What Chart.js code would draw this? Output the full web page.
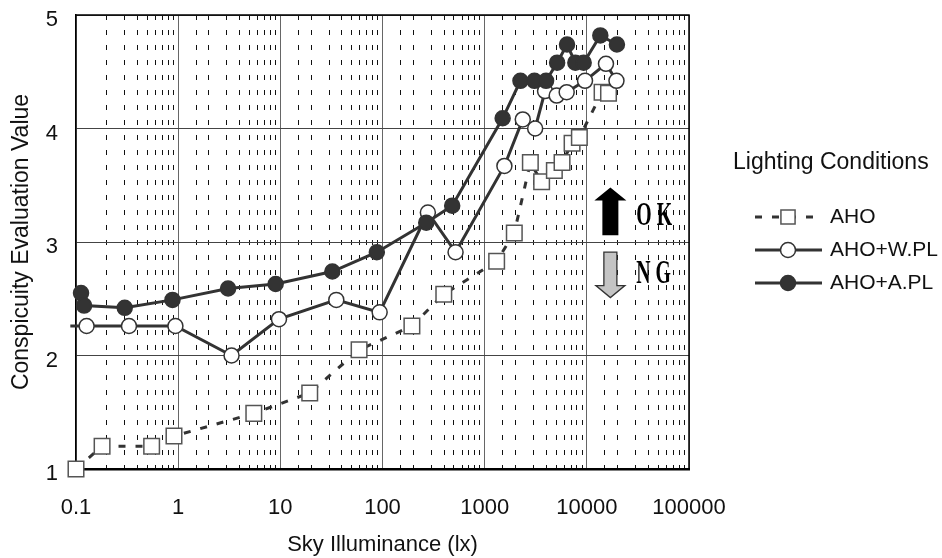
<!DOCTYPE html>
<html>
<head>
<meta charset="utf-8">
<title>Sky Illuminance - Conspicuity</title>
<script src="https://cdn.jsdelivr.net/npm/chart.js@4.4.0/dist/chart.umd.min.js"></script>
<style>
    html, body { margin: 0; padding: 0; background: #fff; }
</style>
</head>
<body>
<canvas id="skyChart" width="942" height="558"></canvas>
<script>
// values (x = sky illuminance in lx, y = evaluation value)
var ahoX = [0.1, 0.18, 0.55, 0.91, 5.5, 19.4, 59, 194, 398, 1310, 1950, 2800, 3610, 4810, 5720, 7170, 8450, 14100, 16300];
var ahoY = [1.00, 1.20, 1.20, 1.29, 1.49, 1.67, 2.05, 2.26, 2.54, 2.83, 3.08, 3.70, 3.53, 3.63, 3.70, 3.87, 3.92, 4.32, 4.31];

var wplX = [0.088, 0.127, 0.33, 0.94, 3.33, 9.7, 35.3, 93.8, 278, 519, 1560, 2360, 3120, 3900, 5070, 6350, 9600, 15400, 19500];
var wplY = [2.26, 2.26, 2.26, 2.26, 2.00, 2.32, 2.49, 2.38, 3.26, 2.91, 3.67, 4.08, 4.00, 4.33, 4.29, 4.32, 4.42, 4.57, 4.42];

var aplX = [0.112, 0.12, 0.30, 0.88, 3.08, 9.0, 32.3, 88, 268, 481, 1500, 2240, 3070, 3990, 5120, 6400, 7720, 9310, 13550, 19700];
var aplY = [2.55, 2.44, 2.42, 2.49, 2.59, 2.63, 2.74, 2.91, 3.17, 3.32, 4.09, 4.42, 4.42, 4.42, 4.58, 4.74, 4.58, 4.58, 4.82, 4.74];

var seriesNames = ["AHO", "AHO+W.PL", "AHO+A.PL"];
var xTickLabels = ["0.1", "1", "10", "100", "1000", "10000", "100000"];
var yTicks = [1, 2, 3, 4, 5];

var FONT = "'Liberation Sans', Arial, sans-serif";

function toPoints(xs, ys) {
    var pts = [];
    for (var i = 0; i < xs.length; i++) {
        pts.push({x: xs[i], y: ys[i]});
    }
    return pts;
}

function isDecade(v) {
    var l = Math.log10(v);
    return Math.abs(l - Math.round(l)) < 1e-6;
}

// fixed axis sizes, no extra padding from the labels
function fixSize(w, h) {
    return function (scale) {
        if (w !== null) scale.width = w;
        if (h !== null) scale.height = h;
        scale.paddingTop = 0;
        scale.paddingBottom = 0;
        scale.paddingLeft = 0;
        scale.paddingRight = 0;
    };
}

// frame on top and right of the plot
var framePlugin = {
    id: "frame",
    beforeDatasetsDraw: function (chart) {
        var a = chart.chartArea;
        var ctx = chart.ctx;
        ctx.save();
        ctx.strokeStyle = "#000";
        ctx.lineWidth = 1.5;
        ctx.beginPath();
        ctx.moveTo(a.left, a.top);
        ctx.lineTo(a.right, a.top);
        ctx.lineTo(a.right, a.bottom);
        ctx.stroke();
        ctx.restore();
    }
};

// OK / NG arrows
var arrowPlugin = {
    id: "okng",
    afterDatasetsDraw: function (chart) {
        var ctx = chart.ctx;
        var xs = chart.scales.x;
        var ys = chart.scales.y;
        var cx = xs.getPixelForValue(17000);

        // black up arrow
        var tip = ys.getPixelForValue(3.48);
        var bottom = ys.getPixelForValue(3.06);
        ctx.save();
        ctx.beginPath();
        ctx.moveTo(cx, tip);
        ctx.lineTo(cx + 16, tip + 13);
        ctx.lineTo(cx + 8, tip + 13);
        ctx.lineTo(cx + 8, bottom);
        ctx.lineTo(cx - 8, bottom);
        ctx.lineTo(cx - 8, tip + 13);
        ctx.lineTo(cx - 16, tip + 13);
        ctx.closePath();
        ctx.fillStyle = "#000";
        ctx.fill();

        // grey down arrow
        var top = ys.getPixelForValue(2.91);
        var tip2 = ys.getPixelForValue(2.51);
        ctx.beginPath();
        ctx.moveTo(cx - 6.5, top);
        ctx.lineTo(cx + 6.5, top);
        ctx.lineTo(cx + 6.5, tip2 - 12);
        ctx.lineTo(cx + 14.5, tip2 - 12);
        ctx.lineTo(cx, tip2);
        ctx.lineTo(cx - 14.5, tip2 - 12);
        ctx.lineTo(cx - 6.5, tip2 - 12);
        ctx.closePath();
        ctx.fillStyle = "#c4c4c4";
        ctx.fill();
        ctx.strokeStyle = "#333";
        ctx.lineWidth = 1.3;
        ctx.stroke();

        // labels
        var tx = xs.getPixelForValue(30500);
        ctx.fillStyle = "#000";
        ctx.font = "bold 33px 'Liberation Serif', 'DejaVu Serif', serif";
        ctx.textBaseline = "alphabetic";
        ctx.textAlign = "left";
        ctx.save();
        ctx.translate(tx, ys.getPixelForValue(3.15));
        ctx.scale(0.6, 1);
        ctx.fillText("O K", 0, 0);
        ctx.restore();
        ctx.save();
        ctx.translate(tx, ys.getPixelForValue(2.64));
        ctx.scale(0.6, 1);
        ctx.fillText("N G", 0, 0);
        ctx.restore();
        ctx.restore();
    }
};

// legend at the right, line + marker samples
var legendPlugin = {
    id: "sideLegend",
    afterDraw: function (chart) {
        var ctx = chart.ctx;
        var a = chart.chartArea;
        ctx.save();
        ctx.fillStyle = "#111";
        ctx.font = "23px " + FONT;
        ctx.textBaseline = "middle";
        ctx.textAlign = "left";
        ctx.fillText("Lighting Conditions", a.right + 44, 163);

        ctx.font = "21px " + FONT;
        var rowY = [217, 250, 283];
        chart.data.datasets.forEach(function (ds, i) {
            var y = rowY[i];
            var x0 = a.right + 66, x1 = a.right + 133, mx = a.right + 99;
            ctx.save();
            ctx.strokeStyle = ds.borderColor;
            ctx.lineWidth = ds.borderWidth;
            ctx.setLineDash(ds.borderDash || []);
            ctx.beginPath();
            ctx.moveTo(x0, y);
            ctx.lineTo(x1, y);
            ctx.stroke();
            ctx.restore();

            ctx.save();
            ctx.fillStyle = ds.pointBackgroundColor;
            ctx.strokeStyle = ds.pointBorderColor;
            ctx.lineWidth = ds.pointBorderWidth;
            ctx.beginPath();
            if (ds.pointStyle === "rect") {
                var s = ds.legendRadius * Math.SQRT1_2;
                ctx.rect(mx - s, y - s, 2 * s, 2 * s);
            } else {
                ctx.arc(mx, y, ds.legendRadius, 0, Math.PI * 2);
            }
            ctx.fill();
            ctx.stroke();
            ctx.restore();

            ctx.fillText(ds.label, a.right + 141, y);
        });
        ctx.restore();
    }
};

var ctx = document.getElementById("skyChart").getContext("2d");

var chart = new Chart(ctx, {
    type: "scatter",
    data: {
        datasets: [{
            label: seriesNames[0],
            data: toPoints(ahoX, ahoY),
            showLine: true,
            borderColor: "#333",
            borderWidth: 3,
            borderDash: [7, 10],
            pointStyle: "rect",
            pointRadius: 11,
            legendRadius: 10,
            pointBackgroundColor: "#fff",
            pointBorderColor: "#555",
            pointBorderWidth: 1.5,
            clip: false,
            order: 3
        }, {
            label: seriesNames[1],
            data: toPoints(wplX, wplY),
            showLine: true,
            borderColor: "#333",
            borderWidth: 3,
            pointStyle: "circle",
            pointRadius: function (c) { return c.dataIndex === 0 ? 0 : 7.5; },
            legendRadius: 7.5,
            pointBackgroundColor: "#fff",
            pointBorderColor: "#333",
            pointBorderWidth: 1.5,
            clip: false,
            order: 2
        }, {
            label: seriesNames[2],
            data: toPoints(aplX, aplY),
            showLine: true,
            borderColor: "#333",
            borderWidth: 3,
            pointStyle: "circle",
            pointRadius: 7.5,
            legendRadius: 7.5,
            pointBackgroundColor: "#333",
            pointBorderColor: "#333",
            pointBorderWidth: 1.5,
            clip: false,
            order: 1
        }]
    },
    options: {
        responsive: false,
        animation: false,
        events: [],
        layout: {
            autoPadding: false,
            padding: {left: 0, right: 253, top: 15, bottom: 0}
        },
        plugins: {
            legend: {display: false},
            tooltip: {enabled: false}
        },
        scales: {
            x: {
                type: "logarithmic",
                position: "bottom",
                min: 0.1,
                max: 100000,
                afterFit: fixSize(null, 89),
                grid: {
                    drawTicks: false,
                    lineWidth: 1,
                    color: function (c) {
                        return c.tick && isDecade(c.tick.value) ? "#666" : "rgba(0,0,0,0)";
                    }
                },
                border: {display: true, color: "#000", width: 2.5},
                ticks: {
                    autoSkip: false,
                    maxRotation: 0,
                    padding: 26,
                    color: "#111",
                    font: {family: FONT, size: 22},
                    callback: function (v) {
                        if (!isDecade(v)) return "";
                        return xTickLabels[Math.round(Math.log10(v)) + 1];
                    }
                },
                title: {
                    display: true,
                    text: "Sky Illuminance (lx)",
                    color: "#111",
                    font: {family: FONT, size: 22},
                    padding: {top: 4, bottom: 0}
                }
            },
            xMinor: {
                type: "logarithmic",
                position: "bottom",
                min: 0.1,
                max: 100000,
                afterFit: fixSize(null, 0),
                grid: {
                    drawTicks: false,
                    lineWidth: 1,
                    borderDash: [5, 10],
                    color: function (c) {
                        return c.tick && !isDecade(c.tick.value) ? "#111" : "rgba(0,0,0,0)";
                    }
                },
                border: {display: false, dash: [5, 10]},
                ticks: {display: false, autoSkip: false}
            },
            y: {
                type: "linear",
                min: 1,
                max: 5,
                afterFit: fixSize(76, null),
                afterBuildTicks: function (axis) {
                    axis.ticks = yTicks.map(function (v) { return {value: v}; });
                },
                grid: {
                    drawTicks: false,
                    color: "#444",
                    lineWidth: 1
                },
                border: {display: true, color: "#000", width: 1.5},
                ticks: {
                    padding: 18,
                    labelOffset: 5,
                    color: "#111",
                    font: {family: FONT, size: 22}
                },
                title: {
                    display: true,
                    text: "Conspicuity Evaluation Value",
                    color: "#111",
                    font: {family: FONT, size: 23},
                    padding: {top: 8, bottom: 4}
                }
            }
        }
    },
    plugins: [framePlugin, arrowPlugin, legendPlugin]
});
</script>
</body>
</html>
